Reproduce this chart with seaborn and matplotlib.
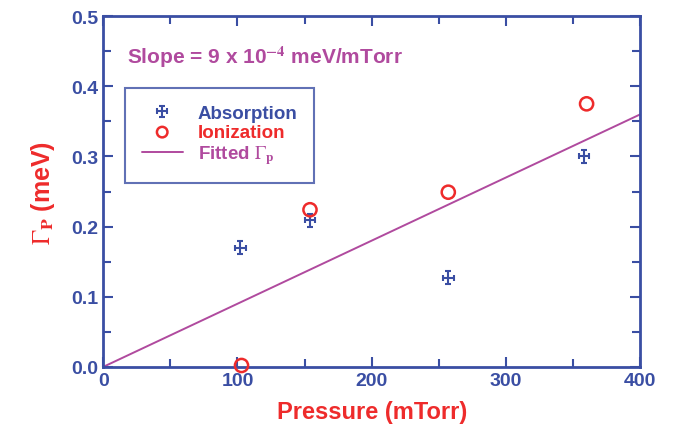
import numpy as np
import pandas as pd
import matplotlib

matplotlib.use('Agg')
import matplotlib.pyplot as plt
import seaborn as sns
from matplotlib.ticker import MultipleLocator, FormatStrFormatter
from matplotlib.legend_handler import HandlerErrorbar

sns.set_theme(style="white")
plt.rcParams['font.family'] = ['Liberation Sans', 'DejaVu Sans']
plt.rcParams['mathtext.fontset'] = 'stix'

# data
abs_pressure = [102, 154, 257, 358]
abs_gamma = [0.170, 0.209, 0.127, 0.300]
ion_pressure = [103, 154, 257, 360]
ion_gamma = [0.002, 0.224, 0.249, 0.375]
fit_pressure = [0, 400]
slope = 9e-4

BLUE = '#3a4ea3'
RED = '#ee2b2b'
MAGENTA = '#b04a9e'

df_ion = pd.DataFrame({'p': ion_pressure, 'g': ion_gamma})
df_fit = pd.DataFrame({'p': fit_pressure, 'g': [slope * p for p in fit_pressure]})

fig = plt.figure(figsize=(6.79, 4.39), dpi=100)
ax = fig.add_axes([0.152, 0.162, 0.791, 0.799])

sns.lineplot(data=df_fit, x='p', y='g', ax=ax, color=MAGENTA, lw=1.4, label='Fitted $\\Gamma_\\mathbf{p}$')
eb = ax.errorbar(abs_pressure, abs_gamma, xerr=4, yerr=0.009, fmt='none', ecolor=BLUE,
                 elinewidth=1.5, capsize=2.5, capthick=1.5, label='Absorption', zorder=3)
sns.scatterplot(data=df_ion, x='p', y='g', ax=ax, marker='o', s=90, facecolor='none',
                edgecolor=RED, linewidth=1.8, label='Ionization', zorder=4, clip_on=False)

ax.set_xlim(0, 400)
ax.set_ylim(0, 0.5)
ax.xaxis.set_major_locator(MultipleLocator(100))
ax.xaxis.set_minor_locator(MultipleLocator(50))
ax.yaxis.set_major_locator(MultipleLocator(0.1))
ax.yaxis.set_minor_locator(MultipleLocator(0.05))
ax.yaxis.set_major_formatter(FormatStrFormatter('%.1f'))
ax.tick_params(which='both', direction='in', top=True, right=True, bottom=True, left=True,
               color=BLUE, width=1.5, labelcolor=BLUE, labelsize=14)
ax.tick_params(which='major', length=7)
ax.tick_params(which='minor', length=6)
for lbl in ax.get_xticklabels() + ax.get_yticklabels():
    lbl.set_fontweight('bold')
for s in ax.spines.values():
    s.set_color(BLUE)
    s.set_linewidth(2)

ax.set_xlabel('Pressure (mTorr)', color=RED, fontsize=17, fontweight='bold', labelpad=8)
ax.set_ylabel('$\\Gamma_\\mathbf{P}$ (meV)', color=RED, fontsize=18, fontweight='bold', labelpad=10)

ax.text(0.045, 0.885, 'Slope = 9 x 10$^{\\mathbf{-4}}$ meV/mTorr', transform=ax.transAxes,
        color=MAGENTA, fontsize=15, fontweight='bold', va='center')

handles, labels = ax.get_legend_handles_labels()
order = [labels.index('Absorption'), labels.index('Ionization'), 0]
leg = ax.legend([handles[i] for i in order], [labels[i] for i in order],
                loc='upper left', bbox_to_anchor=(0.04, 0.795), frameon=True, fancybox=False,
                prop={'weight': 'bold', 'size': 13.5}, handlelength=2.2, borderpad=0.9,
                labelspacing=0.1, borderaxespad=0, markerscale=0.8,
                handler_map={type(eb): HandlerErrorbar(xerr_size=0.28, yerr_size=0.28)})
leg.get_frame().set_edgecolor(BLUE)
leg.get_frame().set_linewidth(1.5)
for t, c in zip(leg.get_texts(), [BLUE, RED, MAGENTA]):
    t.set_color(c)

fig.savefig('out.png', dpi=100)
